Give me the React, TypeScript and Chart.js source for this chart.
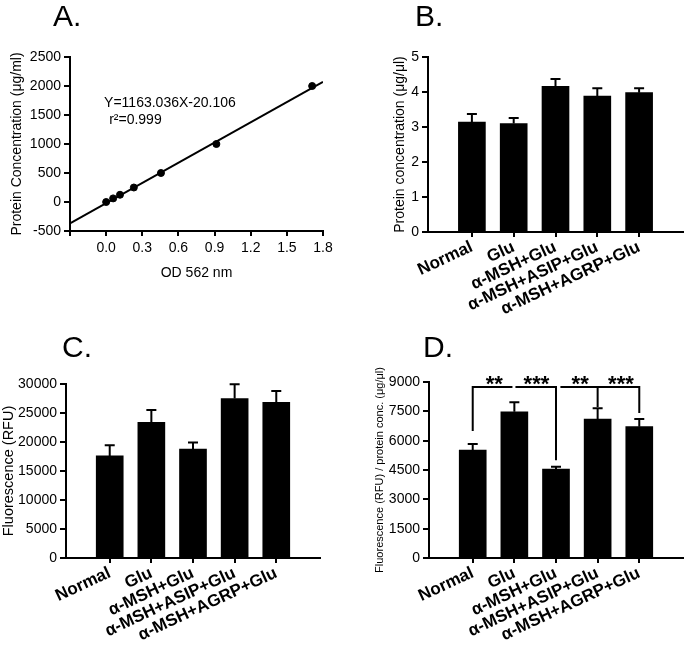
import React, { useEffect, useRef } from 'react';
import { Chart, registerables } from 'chart.js';

Chart.register(...registerables);

const FONT = "'Liberation Sans', Arial, Helvetica, sans-serif";

// ---------- Panel A: standard curve ----------
const odValues = [0, 0.058, 0.115, 0.23, 0.455, 0.915, 1.71];
const concValues = [0, 62.5, 125, 250, 500, 1000, 2000];
const fitLineX = [-0.3, 1.8];
const fitLineY = [-369, 2073];
const odTicks = [-0.3, 0, 0.3, 0.6, 0.9, 1.2, 1.5, 1.8];
const equationText = 'Y=1163.036X-20.106';
const r2Text = 'r²=0.999';

// ---------- Bar panels ----------
const groups = ['Normal', 'Glu', 'α-MSH+Glu', 'α-MSH+ASIP+Glu', 'α-MSH+AGRP+Glu'];

const proteinMean = [3.14, 3.1, 4.16, 3.88, 3.98];
const proteinErr = [0.23, 0.16, 0.21, 0.23, 0.13];

const fluorMean = [17600, 23400, 18800, 27500, 26850];
const fluorErr = [1850, 2100, 1100, 2450, 1950];

const normMean = [5520, 7480, 4550, 7110, 6715];
const normErr = [310, 480, 120, 545, 395];

// significance brackets in panel D (x in group index, y in data units)
const bracketLevel = 8750;
const bracketSpans = [
  [0, 0.93],
  [1.05, 2],
  [2.13, 4],
];
const bracketFeet = [
  [0, 6500],
  [2, 5000],
  [3, 7720],
  [4, 7420],
];
const starLabels = ['**', '***', '**', '***'];
const starX = [0.52, 1.53, 2.58, 3.56];
const starLevel = 9200;

const plain = (v: number) => String(v);

const txtPlugin = (items: any[]) => ({
  id: 'panelText',
  afterDraw(chart: any) {
    const ctx = chart.ctx;
    ctx.save();
    for (const it of items) {
      let x = it.px;
      let y = it.py;
      if (it.dx !== undefined) x = chart.scales.x.getPixelForValue(it.dx);
      if (it.dy !== undefined) y = chart.scales.y.getPixelForValue(it.dy);
      ctx.font = it.font;
      ctx.fillStyle = '#000';
      ctx.textAlign = it.align || 'left';
      ctx.textBaseline = it.baseline || 'alphabetic';
      ctx.fillText(it.text, x, y);
    }
    ctx.restore();
  },
});

const errPlugin = (means: number[], errs: number[]) => ({
  id: 'errorBars',
  afterDatasetsDraw(chart: any) {
    const ctx = chart.ctx;
    const meta = chart.getDatasetMeta(0);
    const ys = chart.scales.y;
    ctx.save();
    ctx.strokeStyle = '#000';
    ctx.lineWidth = 2;
    meta.data.forEach((el: any, i: number) => {
      const top = ys.getPixelForValue(means[i] + errs[i]);
      ctx.beginPath();
      ctx.moveTo(el.x, el.y);
      ctx.lineTo(el.x, top);
      ctx.moveTo(el.x - 5, top);
      ctx.lineTo(el.x + 5, top);
      ctx.stroke();
    });
    ctx.restore();
  },
});

const bracketPlugin = {
  id: 'brackets',
  afterDraw(chart: any) {
    const ctx = chart.ctx;
    const xs = chart.scales.x;
    const ys = chart.scales.y;
    const yb = ys.getPixelForValue(bracketLevel);
    ctx.save();
    ctx.strokeStyle = '#000';
    ctx.lineWidth = 2;
    ctx.beginPath();
    bracketSpans.forEach(([a, b]) => {
      ctx.moveTo(xs.getPixelForValue(a) - 1, yb);
      ctx.lineTo(xs.getPixelForValue(b) + 1, yb);
    });
    bracketFeet.forEach(([a, v]) => {
      ctx.moveTo(xs.getPixelForValue(a), yb);
      ctx.lineTo(xs.getPixelForValue(a), ys.getPixelForValue(v));
    });
    ctx.stroke();
    ctx.fillStyle = '#000';
    ctx.font = `bold 22px ${FONT}`;
    ctx.textAlign = 'center';
    ctx.textBaseline = 'alphabetic';
    starLabels.forEach((s, i) => {
      ctx.fillText(s, xs.getPixelForValue(starX[i]), ys.getPixelForValue(starLevel) + 13);
    });
    ctx.restore();
  },
};

const axisCommon = {
  grid: { drawOnChartArea: false, color: '#000', lineWidth: 2, tickLength: 6, offset: false },
  border: { display: true, color: '#000', width: 2 },
};

function makeA(): any {
  return {
    type: 'scatter',
    data: {
      datasets: [
        {
          type: 'line',
          data: fitLineX.map((x, i) => ({ x, y: fitLineY[i] })),
          borderColor: '#000',
          borderWidth: 2,
          pointRadius: 0,
          fill: false,
        },
        {
          data: odValues.map((x, i) => ({ x, y: concValues[i] })),
          backgroundColor: '#000',
          borderColor: '#000',
          pointRadius: 3.5,
        },
      ],
    },
    options: {
      animation: false,
      responsive: false,
      devicePixelRatio: 1,
      layout: { padding: { top: 57, right: 17, bottom: 0, left: 0 } },
      plugins: { legend: { display: false }, tooltip: { enabled: false } },
      scales: {
        x: {
          type: 'linear',
          min: -0.3,
          max: 1.8,
          afterBuildTicks: (s: any) => {
            s.ticks = odTicks.map((v) => ({ value: v }));
          },
          afterFit: (s: any) => {
            s.height = 89;
          },
          ticks: {
            color: '#000',
            font: { family: FONT, size: 14 },
            padding: 4,
            maxRotation: 0,
            callback: (v: number) => (v < -0.01 ? '' : v.toFixed(1)),
          },
          title: {
            display: true,
            text: 'OD 562 nm',
            color: '#000',
            font: { family: FONT, size: 14 },
            padding: { top: 0, bottom: 38.6 },
          },
          ...axisCommon,
          grid: { ...axisCommon.grid, tickLength: 5 },
        },
        y: {
          min: -500,
          max: 2500,
          ticks: { stepSize: 500, color: '#000', font: { family: FONT, size: 14 }, padding: 3, callback: plain },
          afterFit: (s: any) => {
            s.width = 70;
          },
          title: {
            display: true,
            text: 'Protein Concentration (μg/ml)',
            color: '#000',
            font: { family: FONT, size: 14 },
            padding: { top: 8.6, bottom: 0 },
          },
          ...axisCommon,
        },
      },
    },
    plugins: [
      txtPlugin([
        { text: 'A.', px: 53, py: 26, font: `30px ${FONT}` },
        { text: equationText, dx: -0.017, dy: 1707, font: `14px ${FONT}`, baseline: 'middle' },
        { text: r2Text, dx: 0.025, dy: 1414, font: `14px ${FONT}`, baseline: 'middle' },
      ]),
    ],
  };
}

function makeBar(
  means: number[],
  errs: number[],
  yMax: number,
  step: number,
  yTitle: string,
  yTitleSize: number,
  yTitlePad: number,
  pad: any,
  yWidth: number,
  xHeight: number,
  letter: string,
  letterX: number,
  letterY: number,
  extra: any[]
): any {
  return {
    type: 'bar',
    data: {
      datasets: [
        {
          data: means.map((v, i) => ({ x: i, y: v })),
          backgroundColor: '#000',
          borderWidth: 0,
          barThickness: 27,
        },
      ],
    },
    options: {
      animation: false,
      responsive: false,
      devicePixelRatio: 1,
      layout: { padding: pad },
      plugins: { legend: { display: false }, tooltip: { enabled: false } },
      scales: {
        x: {
          type: 'linear',
          min: -1.05,
          max: 5.05,
          offset: false,
          afterBuildTicks: (s: any) => {
            s.ticks = groups.map((_, i) => ({ value: i }));
          },
          afterFit: (s: any) => {
            s.height = xHeight;
          },
          ticks: {
            autoSkip: false,
            color: '#000',
            font: { family: FONT, size: 17, weight: 'bold' },
            padding: 0,
            minRotation: 25,
            maxRotation: 25,
            callback: (v: number) => groups[Math.round(v)] ?? '',
          },
          ...axisCommon,
          grid: { ...axisCommon.grid, tickLength: 5 },
        },
        y: {
          min: 0,
          max: yMax,
          ticks: { stepSize: step, color: '#000', font: { family: FONT, size: 14 }, padding: 3, callback: plain },
          afterFit: (s: any) => {
            s.width = yWidth;
          },
          title: {
            display: true,
            text: yTitle,
            color: '#000',
            font: { family: FONT, size: yTitleSize },
            padding: { top: yTitlePad, bottom: 0 },
          },
          ...axisCommon,
        },
      },
    },
    plugins: [
      errPlugin(means, errs),
      txtPlugin([{ text: letter, px: letterX, py: letterY, font: `30px ${FONT}` }]),
      ...extra,
    ],
  };
}

function Panel({ left, top, width, height, make }: any) {
  const ref = useRef<HTMLCanvasElement>(null);
  useEffect(() => {
    if (!ref.current) return;
    const chart = new Chart(ref.current, make());
    return () => chart.destroy();
  }, []);
  return (
    <canvas
      ref={ref}
      width={width}
      height={height}
      style={{ position: 'absolute', left, top, width, height }}
    />
  );
}

export default function App() {
  return (
    <div style={{ position: 'fixed', left: 0, top: 0, width: 685, height: 652, background: '#fff', overflow: 'hidden' }}>
      <Panel left={0} top={0} width={340} height={320} make={makeA} />
      <Panel
        left={340}
        top={0}
        width={345}
        height={320}
        make={() =>
          makeBar(proteinMean, proteinErr, 5, 1, 'Protein concentration (μg/μl)', 14, 51.6,
            { top: 57, right: 2, bottom: 0, left: 0 }, 88, 88, 'B.', 75, 26, [])
        }
      />
      <Panel
        left={0}
        top={320}
        width={340}
        height={332}
        make={() =>
          makeBar(fluorMean, fluorErr, 30000, 5000, 'Fluorescence (RFU)', 14.5, 0,
            { top: 64, right: 20, bottom: 0, left: 0 }, 66, 94, 'C.', 62, 37, [])
        }
      />
      <Panel
        left={340}
        top={320}
        width={345}
        height={332}
        make={() =>
          makeBar(normMean, normErr, 9000, 1500, 'Fluorescence (RFU) / protein conc. (μg/μl)', 11, 33.4,
            { top: 62, right: 2, bottom: 0, left: 0 }, 89, 94, 'D.', 83, 37, [bracketPlugin])
        }
      />
    </div>
  );
}
